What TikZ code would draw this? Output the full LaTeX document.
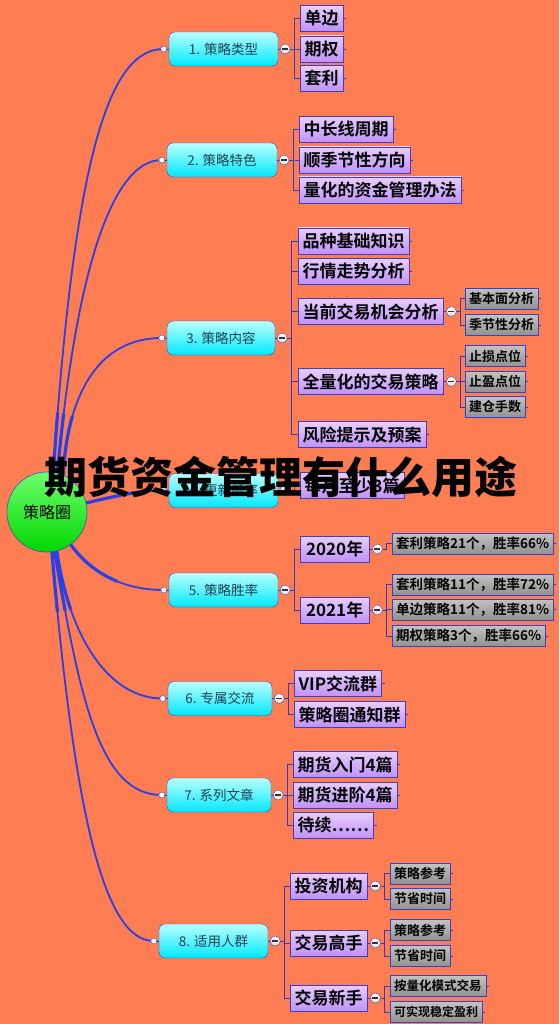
\documentclass[tikz,border=0pt]{standalone}
\usepackage{fontspec}
\setmainfont{Noto Sans CJK SC}[BoldFont={Noto Sans CJK SC Bold}]
\newfontfamily\blackfont{Noto Sans CJK SC Black}
\usetikzlibrary{calc}
\definecolor{bgc}{RGB}{255,125,82}
\definecolor{curveblue}{RGB}{40,64,228}
\definecolor{boxblue}{RGB}{60,64,200}
\definecolor{linkblue}{RGB}{50,60,190}
\definecolor{cyanT}{RGB}{185,255,255}
\definecolor{cyanB}{RGB}{0,232,255}
\definecolor{purT}{RGB}{232,205,255}
\definecolor{purB}{RGB}{192,145,250}
\definecolor{greyT}{RGB}{195,195,195}
\definecolor{greyB}{RGB}{145,145,145}
\definecolor{greenT}{RGB}{110,255,110}
\definecolor{greenB}{RGB}{0,215,0}
\definecolor{tealtext}{RGB}{30,65,80}
\tikzset{
  rootnode/.style={circle, draw=boxblue, top color=greenT, bottom color=greenB, minimum size=80, inner sep=0, font=\fontsize{16}{16}\selectfont},
  lvone/.style={draw=boxblue, rounded corners=6, top color=cyanT, bottom color=cyanB, minimum width=#1, minimum height=34, inner sep=0, font=\fontsize{13.5}{13.5}\selectfont, text=tealtext},
  lvtwo/.style={draw=boxblue, top color=purT, bottom color=purB, anchor=west, minimum height=26, inner xsep=4.5, inner ysep=0, font=\bfseries\fontsize{17}{17}\selectfont},
  lvthree/.style={draw=boxblue, top color=greyT, bottom color=greyB, anchor=west, minimum height=21, inner xsep=4, inner ysep=0, font=\bfseries\fontsize{13}{13}\selectfont},
  rootcurve/.style={draw=curveblue, line width=1.8},
  rootthick/.style={draw=curveblue, line width=3.2, dash pattern=on 60 off 2000},
  link/.style={draw=linkblue, line width=0.9},
  dotnode/.style={circle, draw=boxblue, fill=white, minimum size=6, inner sep=0},
  fold/.style={circle, draw=boxblue, top color=white, bottom color=black!12, minimum size=10, inner sep=0,
    path picture={\draw[line width=1.4, black!80] ([xshift=-3]path picture bounding box.center) -- ([xshift=3]path picture bounding box.center);}},
}
\begin{document}
\begin{tikzpicture}[x=1pt,y=-1pt]
\fill[bgc] (0,0) rectangle (559,1024);
\useasboundingbox (0,0) rectangle (559,1024);

% root and level one nodes
\node[rootnode] (root) at (47,512) {策略圈};
\node[lvone=109] (n1) at (223.5,49) {1. 策略类型};
\node[lvone=110] (n2) at (222,160) {2. 策略特色};
\node[lvone=108] (n3) at (221,338) {3. 策略内容};
\node[lvone=109] (n4) at (223.5,490.5) {4. 更新频率};
\node[lvone=109] (n5) at (223.5,590) {5. 策略胜率};
\node[lvone=104] (n6) at (220,698.5) {6. 专属交流};
\node[lvone=104] (n7) at (219,795) {7. 系列文章};
\node[lvone=109] (n8) at (213.5,941) {8. 适用人群};

\foreach \i in {1,...,8} {
  \coordinate (d\i) at ($(n\i.west)+(-5,0)$);
}
% curves from root
\foreach \s/\ca/\cb/\i in {81/{(75,150)}/{(110,49)}/1, 75/{(75,280)}/{(110,160)}/2, 66/{(66,410)}/{(90,338)}/3, 13/{(120,495)}/{(140,490.5)}/4, -54/{(95,578)}/{(130,590)}/5, -76/{(70,640)}/{(110,698.5)}/6, -79/{(80,700)}/{(100,795)}/7, -83/{(75,820)}/{(105,941)}/8} {
  \draw[rootcurve] (root.\s) .. controls \ca and \cb .. (d\i);
  \draw[rootthick] (root.\s) .. controls \ca and \cb .. (d\i);
}
\node[rootnode] at (root) {策略圈};
\foreach \i in {1,...,8} {
  \draw[link] (d\i) -- (n\i.west);
  \node[dotnode] (dd\i) at (d\i) {};
  \node[fold] (c\i) at ($(n\i.east)+(7,0)$) {};
  \draw[link] (n\i.east) -- (c\i.west);
}

% level two
\node[lvtwo] (a11) at (300,18.5) {单边};
\node[lvtwo] (a12) at (300,49) {期权};
\node[lvtwo] (a13) at (300,78.5) {套利};
\node[lvtwo] (a21) at (299,129.5) {中长线周期};
\node[lvtwo] (a22) at (299,160) {顺季节性方向};
\node[lvtwo] (a23) at (299,190) {量化的资金管理办法};
\node[lvtwo] (a31) at (298,241) {品种基础知识};
\node[lvtwo] (a32) at (298,271.5) {行情走势分析};
\node[lvtwo] (a33) at (298,311.5) {当前交易机会分析};
\node[lvtwo] (a34) at (298,381.5) {全量化的交易策略};
\node[lvtwo] (a35) at (298,434.5) {风险提示及预案};
\node[lvtwo] (a41) at (300,485.5) {每月至少3篇};
\node[lvtwo, minimum width=69] (a51) at (300,549) {2020年};
\node[lvtwo, minimum width=69] (a52) at (300,610) {2021年};
\node[lvtwo] (a61) at (294,683.5) {VIP交流群};
\node[lvtwo] (a62) at (294,714.5) {策略圈通知群};
\node[lvtwo] (a71) at (293,764.5) {期货入门4篇};
\node[lvtwo] (a72) at (293,795) {期货进阶4篇};
\node[lvtwo] (a73) at (293,825.5) {待续……};
\node[lvtwo] (a81) at (290,886) {投资机构};
\node[lvtwo] (a82) at (290,943) {交易高手};
\node[lvtwo] (a83) at (290,998) {交易新手};

\foreach \p/\c in {1/a11,1/a12,1/a13,2/a21,2/a22,2/a23,3/a31,3/a32,3/a33,3/a34,3/a35,4/a41,5/a51,5/a52,6/a61,6/a62,7/a71,7/a72,7/a73,8/a81,8/a82,8/a83} {
  \draw[link] (c\p.east) -- ++(4,0) |- (\c.west);
}

% level three
\node[lvthree] (b331) at (465,298.5) {基本面分析};
\node[lvthree] (b332) at (465,325) {季节性分析};
\node[lvthree] (b341) at (465,356) {止损点位};
\node[lvthree] (b342) at (465,381.5) {止盈点位};
\node[lvthree] (b343) at (465,407) {建仓手数};
\node[lvthree, font=\bfseries\fontsize{13.5}{13.5}\selectfont] (b511) at (392,543.5) {套利策略21个，胜率66\%};
\node[lvthree, font=\bfseries\fontsize{13.5}{13.5}\selectfont] (b521) at (392,584.5) {套利策略11个，胜率72\%};
\node[lvthree, font=\bfseries\fontsize{13.5}{13.5}\selectfont] (b522) at (392,609.5) {单边策略11个，胜率81\%};
\node[lvthree, font=\bfseries\fontsize{13.5}{13.5}\selectfont] (b523) at (392,636) {期权策略3个，胜率66\%};
\node[lvthree] (b811) at (390,873.5) {策略参考};
\node[lvthree] (b812) at (390,899) {节省时间};
\node[lvthree] (b821) at (390,930) {策略参考};
\node[lvthree] (b822) at (390,956) {节省时间};
\node[lvthree, font=\bfseries\fontsize{12.5}{12.5}\selectfont] (b831) at (390,986) {按量化模式交易};
\node[lvthree, font=\bfseries\fontsize{12}{12}\selectfont] (b832) at (390,1012) {可实现稳定盈利};

\foreach \p in {a33,a34,a51,a52,a81,a82,a83} {
  \node[fold] (f\p) at ($(\p.east)+(8,0)$) {};
  \draw[link] (\p.east) -- (f\p.west);
}
\foreach \p/\c in {a33/b331,a33/b332,a34/b341,a34/b342,a34/b343,a51/b511,a52/b521,a52/b522,a52/b523,a81/b811,a81/b812,a82/b821,a82/b822,a83/b831,a83/b832} {
  \draw[link] (f\p.east) -- ++(4,0) |- (\c.west);
}

% small stubs on leaves
\foreach \n in {a11,a12,a13,a21,a22,a23,a31,a32,a35,a41,a61,a62,a71,a72,a73,b331,b332,b341,b342,b343,b511,b521,b522,b523,b811,b812,b821,b822,b831,b832} {
  \draw[link] (\n.east) -- ++(3,0);
}

% overlay title
\node[font=\blackfont\fontsize{43}{43}\selectfont, text=black] (title) at (281,477) {期货资金管理有什么用途};
\end{tikzpicture}
\end{document}
